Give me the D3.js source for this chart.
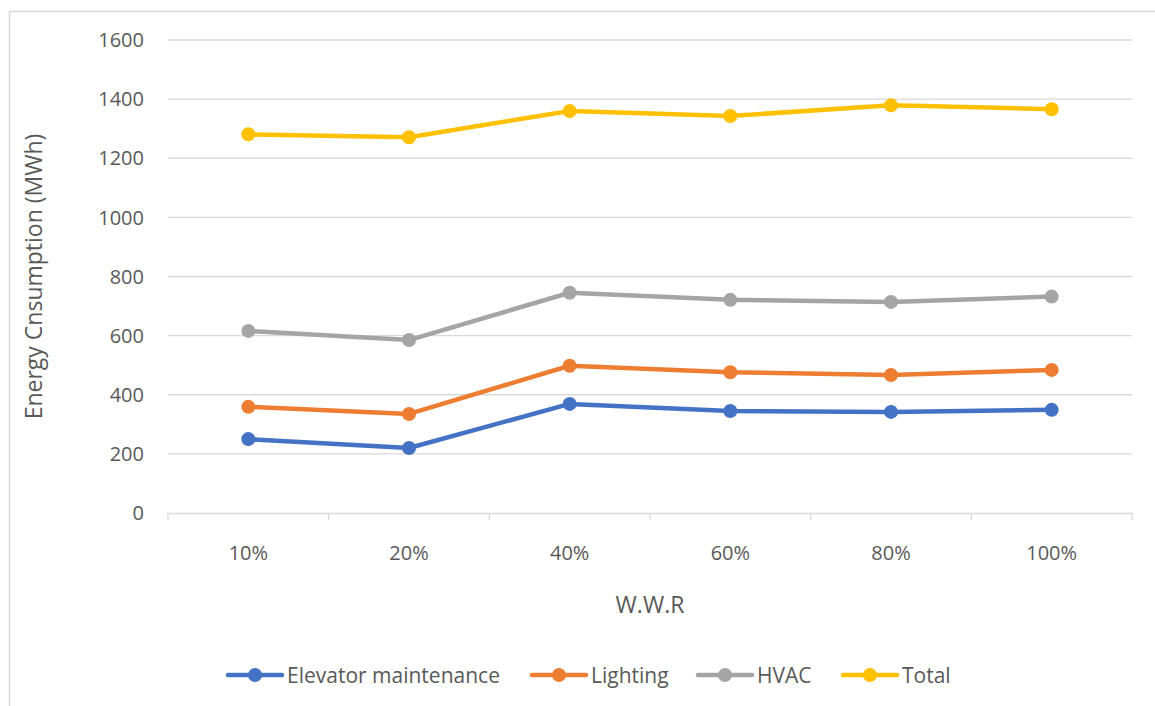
<!DOCTYPE html>
<html><head><meta charset="utf-8">
<script src="https://cdn.jsdelivr.net/npm/d3@7"></script>
<style>body{margin:0;background:#fff}svg{display:block}text{font-family:"Open Sans","Noto Sans",sans-serif;fill:#595959}</style>
</head><body><svg id="c" width="1155" height="706"></svg>
<script>
const categories = ["10%","20%","40%","60%","80%","100%"];
const elevator = [250,220,369,345,342,349];
const lighting = [359,335,498,476,467,484];
const hvac = [616,585,745,721,714,732];
const total = [1281,1271,1360,1343,1379,1366];
const seriesNames = ["Elevator maintenance","Lighting","HVAC","Total"];
const seriesColors = ["#4472C4","#ED7D31","#A5A5A5","#FFC000"];
const yTicks = [0,200,400,600,800,1000,1200,1400,1600];
const series = [elevator,lighting,hvac,total];

const svg = d3.select("#c");
svg.append("rect").attr("x",9.5).attr("y",11.5).attr("width",1160).attr("height",700)
  .attr("fill","none").attr("stroke","#d9d9d9").attr("stroke-width",1.5);

const L=168,R=1132,T=40,B=513;
const x = d3.scaleBand().domain(categories).range([L,R]);
const y = d3.scaleLinear().domain([0,1600]).range([B,T]);

// grid
svg.append("g").selectAll("line").data(yTicks.filter(d=>d>0)).join("line")
  .attr("x1",L).attr("x2",R).attr("y1",d=>y(d)).attr("y2",d=>y(d))
  .attr("stroke","#d9d9d9").attr("stroke-width",1.3);

// y labels
svg.append("g").selectAll("text").data(yTicks).join("text")
  .attr("x",144).attr("y",d=>y(d)).attr("dy","0.36em").attr("text-anchor","end")
  .attr("font-size",20).text(d=>d);

// x axis
const xa = svg.append("g").attr("transform",`translate(0,${B})`)
  .call(d3.axisBottom(x).tickSize(0).tickPadding(0));
xa.select(".domain").attr("stroke","#d9d9d9").attr("stroke-width",1.3);
xa.selectAll(".tick text").attr("y",40).attr("dy","0.36em").attr("font-size",20).attr("fill","#595959")
  .style("font-family",'"Open Sans","Noto Sans",sans-serif');
// boundary ticks
const edges = categories.map(c=>x(c)).concat([R]);
svg.append("g").selectAll("line").data(edges).join("line")
  .attr("x1",d=>d).attr("x2",d=>d).attr("y1",B).attr("y2",B+7)
  .attr("stroke","#d9d9d9").attr("stroke-width",1.3);

// titles
svg.append("text").attr("transform",`translate(34,${(T+B)/2}) rotate(-90)`)
  .attr("text-anchor","middle").attr("dy","0.36em").attr("font-size",23).text("Energy Cnsumption (MWh)");
svg.append("text").attr("x",650).attr("y",605).attr("dy","0.36em").attr("text-anchor","middle")
  .attr("font-size",23).text("W.W.R");

// lines
const line = d3.line().x((d,i)=>x(categories[i])+x.bandwidth()/2).y(d=>y(d));
series.forEach((s,k)=>{
  const g = svg.append("g");
  g.append("path").datum(s).attr("d",line).attr("fill","none")
    .attr("stroke",seriesColors[k]).attr("stroke-width",4.5).attr("stroke-linejoin","round").attr("stroke-linecap","round");
  g.selectAll("circle").data(s).join("circle")
    .attr("cx",(d,i)=>x(categories[i])+x.bandwidth()/2).attr("cy",d=>y(d)).attr("r",7)
    .attr("fill",seriesColors[k]);
});

// legend
const legX = [228,532,698,843];
const lg = svg.append("g");
seriesNames.forEach((n,k)=>{
  const g = lg.append("g").attr("transform",`translate(${legX[k]},675)`);
  g.append("line").attr("x1",0).attr("x2",54).attr("stroke",seriesColors[k]).attr("stroke-width",4.5).attr("stroke-linecap","round");
  g.append("circle").attr("cx",27).attr("r",7).attr("fill",seriesColors[k]);
  g.append("text").attr("x",59).attr("dy","0.36em").attr("font-size",21).text(n);
});
</script></body></html>
